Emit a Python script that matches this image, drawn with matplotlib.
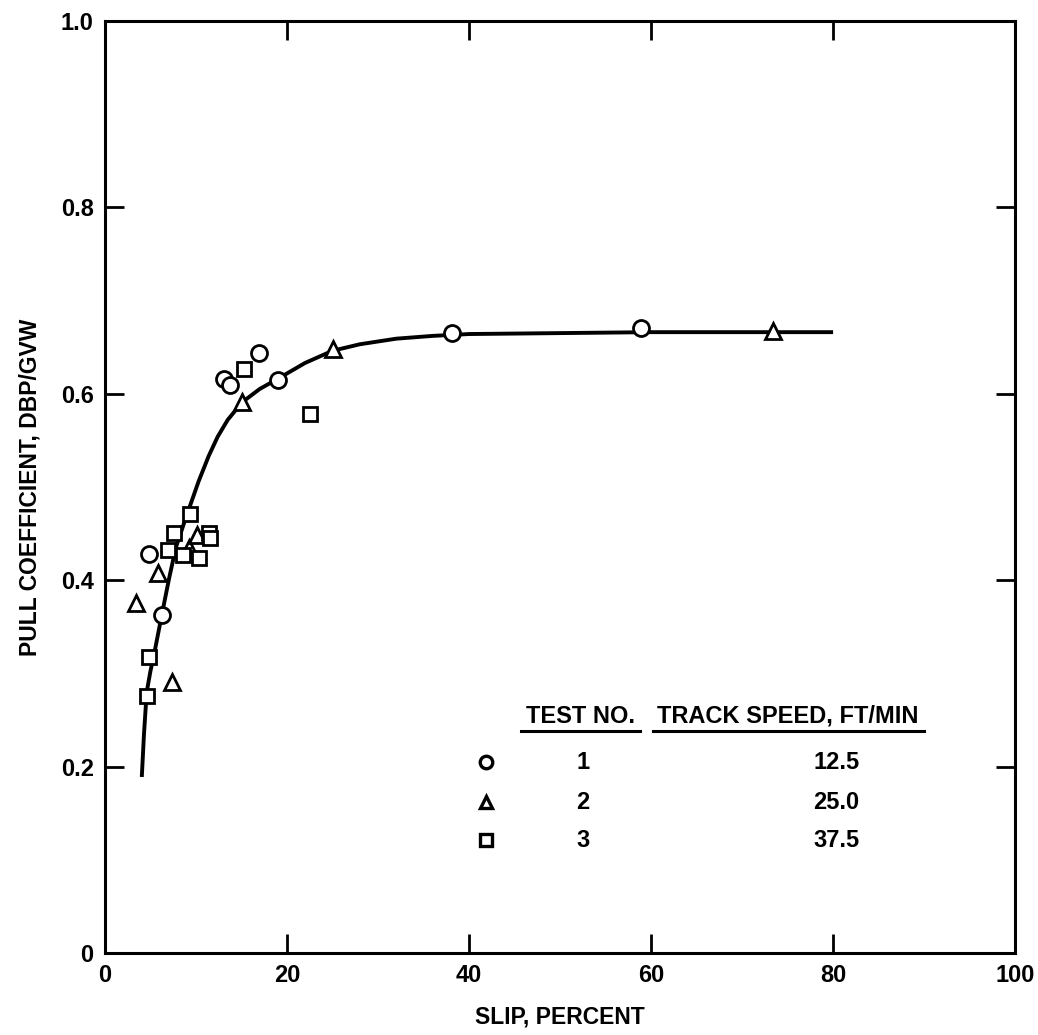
import matplotlib
matplotlib.use("Agg")
import matplotlib.pyplot as plt

plt.rcParams["font.family"] = ["Liberation Sans", "DejaVu Sans"]

# test 1 (circles), 12.5 ft/min
t1_slip = [4.9, 6.3, 13.1, 13.8, 16.9, 19.0, 38.1, 58.9]
t1_pull = [0.428, 0.363, 0.616, 0.609, 0.644, 0.615, 0.665, 0.670]

# test 2 (triangles), 25.0 ft/min
t2_slip = [3.4, 5.8, 7.4, 9.3, 10.1, 15.1, 25.1, 73.4]
t2_pull = [0.376, 0.408, 0.291, 0.435, 0.449, 0.591, 0.648, 0.667]

# test 3 (squares), 37.5 ft/min
t3_slip = [4.6, 4.9, 6.9, 7.6, 8.6, 9.4, 10.3, 11.4, 11.6, 15.3, 22.5]
t3_pull = [0.276, 0.318, 0.432, 0.451, 0.427, 0.471, 0.424, 0.451, 0.445, 0.627, 0.578]

# faired curve
curve_slip = [4.06, 4.3, 4.6, 5.0, 5.5, 6.26, 7.06, 7.8, 8.9, 10.3, 11.4, 12.4,
              13.5, 15.1, 17.0, 19.0, 22.0, 25.0, 28.0, 32.0, 36.0, 40.0, 50.0,
              60.0, 70.0, 80.0]
curve_pull = [0.189, 0.235, 0.280, 0.302, 0.325, 0.363, 0.402, 0.435, 0.467, 0.506, 0.533, 0.554,
              0.572, 0.591, 0.605, 0.616, 0.633, 0.646, 0.653, 0.659, 0.662, 0.664, 0.665,
              0.666, 0.666, 0.666]

test_no = ["1", "2", "3"]
track_speed = ["12.5", "25.0", "37.5"]
markers = ["o", "^", "s"]

xticks = [0, 20, 40, 60, 80, 100]
yticks = [0, 0.2, 0.4, 0.6, 0.8, 1.0]
ytick_labels = ["0", "0.2", "0.4", "0.6", "0.8", "1.0"]

fig = plt.figure(figsize=(10.38, 10.35), dpi=100)
ax = fig.add_axes([0.101, 0.079, 0.877, 0.901])

ax.plot(curve_slip, curve_pull, color="black", lw=2.8, solid_capstyle="butt", zorder=2)

mk = dict(linestyle="none", markerfacecolor="white", markeredgecolor="black",
          markeredgewidth=2.0, zorder=3)
ax.plot(t1_slip, t1_pull, marker="o", markersize=11.5, **mk)
ax.plot(t2_slip, t2_pull, marker="^", markersize=11.5, **mk)
ax.plot(t3_slip, t3_pull, marker="s", markersize=10.5, **mk)

ax.set_xlim(0, 100)
ax.set_ylim(0, 1.0)
ax.set_xticks(xticks)
ax.set_xticklabels([str(v) for v in xticks])
ax.set_yticks(yticks)
ax.set_yticklabels(ytick_labels)
ax.tick_params(direction="in", length=14, width=2, top=True, right=True,
               labelsize=17, pad=8)
for lab in ax.get_xticklabels() + ax.get_yticklabels():
    lab.set_fontweight("bold")
for sp in ax.spines.values():
    sp.set_linewidth(2.2)

ax.set_xlabel("SLIP, PERCENT", fontsize=16.5, fontweight="bold", labelpad=13)
ax.set_ylabel("PULL COEFFICIENT, DBP/GVW", fontsize=16.5, fontweight="bold", labelpad=14)

# legend table
tr = ax.transAxes
hy = 0.254
ax.text(0.522, hy, "TEST NO.", transform=tr, ha="center", va="center",
        fontsize=17, fontweight="bold")
ax.text(0.750, hy, "TRACK SPEED, FT/MIN", transform=tr, ha="center", va="center",
        fontsize=17, fontweight="bold")
ax.plot([0.457, 0.588], [0.238, 0.238], transform=tr, color="black", lw=2.2)
ax.plot([0.602, 0.900], [0.238, 0.238], transform=tr, color="black", lw=2.2)
rows_y = [0.205, 0.162, 0.121]
for m, n, s, ry in zip(markers, test_no, track_speed, rows_y):
    ax.plot([0.419], [ry], transform=tr, marker=m, markersize=9,
            markerfacecolor="white", markeredgecolor="black", markeredgewidth=2.4)
    ax.text(0.525, ry, n, transform=tr, ha="center", va="center",
            fontsize=17, fontweight="bold")
    ax.text(0.829, ry, s, transform=tr, ha="right", va="center",
            fontsize=17, fontweight="bold")

fig.savefig("out.png", dpi=100)
